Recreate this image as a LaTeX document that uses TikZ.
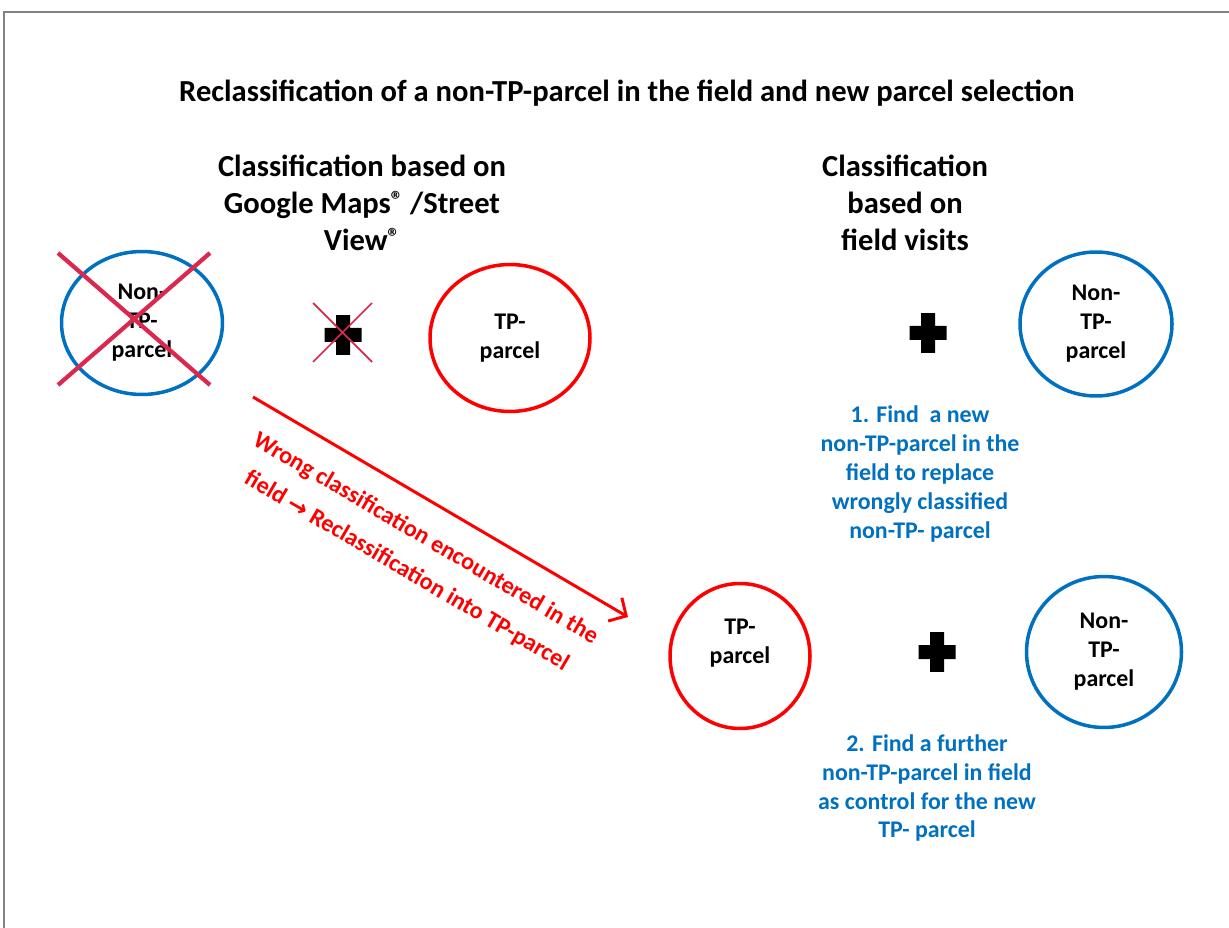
\documentclass[tikz,border=0pt]{standalone}
\usepackage{fontspec}
\setmainfont{Carlito}
\newfontfamily\arrowfont{DejaVu Sans}
\usetikzlibrary{shapes.geometric,arrows.meta}

\definecolor{parcelblue}{RGB}{0,112,192}
\definecolor{crossred}{RGB}{218,40,78}
\definecolor{framegray}{RGB}{130,130,130}

\newcommand{\regmark}{\raisebox{0.35ex}{\fontsize{14}{14}\selectfont ®}}

\tikzset{
  parcel/.style={ellipse, line width=2pt, inner sep=0pt, align=center,
    font=\fontsize{13.6}{16.5}\selectfont\bfseries},
  nontp/.style={parcel, draw=parcelblue},
  tp/.style={parcel, draw=red},
  heading/.style={align=center, font=\fontsize{17.4}{21}\selectfont\bfseries},
  note/.style={align=center, text=parcelblue, font=\fontsize{13.6}{16.5}\selectfont\bfseries},
  plusmark/.style={minimum width=0.74cm, minimum height=0.8cm, inner sep=0pt},
}

\begin{document}
\begin{tikzpicture}[x=0.02cm,y=-0.02cm]
	\useasboundingbox (0,0) rectangle (1229,928);
	% frame
	\draw[framegray, line width=0.8pt] (4,928) -- (4,12) -- (1229,12);
	% title and headings
	\node[heading] (title) at (627,93) {Reclassification of a non-TP-parcel in the field and new parcel selection};
	\node[heading] (mapshead) at (362,203) {Classification based on\\Google Maps\regmark\ /Street\\View\regmark};
	\node[heading] (fieldhead) at (905,203) {Classification\\based on\\field visits};
	% parcels, first classification
	\node[nontp, minimum width=3.22cm, minimum height=2.86cm] (nonTPold) at (142,323) {Non-\\TP-\\parcel};
	\node[tp, minimum width=3.2cm, minimum height=2.94cm] (TPold) at (510,338) {TP-\\parcel};
	\node[plusmark] (plusA) at (343,335) {};
	% parcels after field visit
	\node[nontp, minimum width=3.04cm, minimum height=2.88cm] (nonTPnew) at (1096,324) {Non-\\TP-\\parcel};
	\node[plusmark] (plusB) at (928,333) {};
	\node[tp, minimum width=2.8cm, minimum height=2.9cm] (TPnew) at (740,656) {TP-\\parcel\\~};
	\node[plusmark] (plusC) at (937,652) {};
	\node[nontp, minimum width=3.1cm, minimum height=3.02cm] (nonTPctrl) at (1104,652) {Non-\\TP-\\parcel};
	% plus signs
	\foreach \p in {plusA,plusB,plusC}
		\fill ([xshift=-0.14cm,yshift=-0.4cm]\p.center) rectangle ([xshift=0.14cm,yshift=0.4cm]\p.center)
			([xshift=-0.37cm,yshift=-0.14cm]\p.center) rectangle ([xshift=0.37cm,yshift=0.14cm]\p.center);
	% crossed out
	\draw[crossred, line width=2.4pt] (58,253) -- (210,385) (210,253) -- (58,385);
	\draw[crossred, line width=1pt] (313,303) -- (372,362) (372,303) -- (313,362);
	% reclassification arrow
	\coordinate (wrongstart) at (253,397);
	\coordinate (wrongend) at (628,617);
	\draw[red, line width=1.7pt, -{Straight Barb[length=2.6mm,width=5.4mm]}] (wrongstart) -- (wrongend);
	\node[rotate=-30.4, align=center, text=red, font=\fontsize{13.7}{21.5}\selectfont\bfseries] (wrongnote) at (416,555)
		{Wrong classification encountered in the\\field {\arrowfont\bfseries →} Reclassification into TP-parcel};
	% steps
	\node[note] (stepone) at (920,474) {1. Find\ \ a new\\non-TP-parcel in the\\field to replace\\wrongly classified\\non-TP- parcel};
	\node[note] (steptwo) at (927,788) {2. Find a further\\non-TP-parcel in field\\as control for the new\\TP- parcel};
\end{tikzpicture}
\end{document}
